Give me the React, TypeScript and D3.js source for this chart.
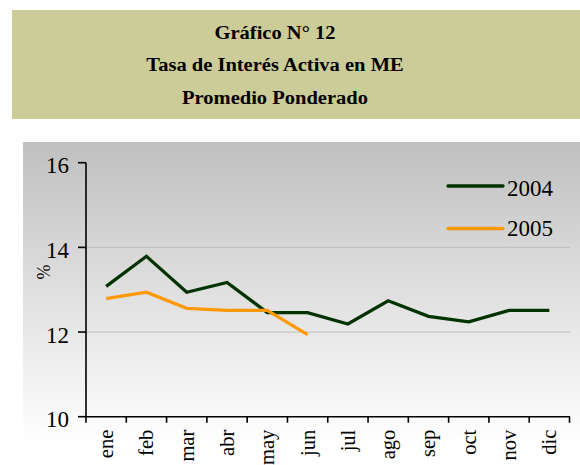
import React from "react";
import * as d3 from "d3";

const months = ["ene", "feb", "mar", "abr", "may", "jun", "jul", "ago", "sep", "oct", "nov", "dic"];
const serie2004 = [13.08, 13.79, 12.94, 13.17, 12.46, 12.46, 12.19, 12.74, 12.37, 12.24, 12.51, 12.51];
const serie2005 = [12.79, 12.94, 12.56, 12.51, 12.51, 11.94];
const yTicks = [10, 12, 14, 16];
const gridTicks = [12, 14];
const titleLines = ["Gráfico N° 12", "Tasa de Interés Activa en ME", "Promedio Ponderado"];

const W = 580;
const H = 465;
const FONT = "Liberation Serif";

export default function App() {
  const x = d3.scaleBand<string>().domain(months).range([86, 569.5]);
  const y = d3.scaleLinear().domain([10, 16]).range([416.7, 162.7]);
  const cx = (i: number) => x(months[i])! + x.bandwidth() / 2;
  const line = d3.line<number>().x((d, i) => cx(i)).y((d) => y(d));
  const legend = [
    { name: "2004", color: "#003300", yy: 186, ty: 196 },
    { name: "2005", color: "#FF9900", yy: 228.5, ty: 236 },
  ];

  return (
    <svg width={W} height={H} style={{ position: "absolute", left: 0, top: 0, fontFamily: FONT }}>
      <defs>
        <linearGradient id="bg" x1="0" y1="0" x2="0" y2="1">
          <stop offset="0%" stopColor="#C0C0C0" />
          <stop offset="100%" stopColor="#FFFFFF" />
        </linearGradient>
      </defs>

      {/* titulo */}
      <rect x={12} y={10} width={W - 12} height={109} fill="#CCCC99" />
      {titleLines.map((t, i) => (
        <text
          key={t}
          transform={`translate(275,${38.5 + i * 32.5}) scale(1.08,1)`}
          textAnchor="middle"
          fontSize={19}
          fontWeight="bold"
        >
          {t}
        </text>
      ))}

      <rect x={23} y={142} width={W - 23} height={301} fill="url(#bg)" />

      {/* grilla */}
      {gridTicks.map((t) => (
        <line key={t} x1={86} x2={570} y1={y(t)} y2={y(t)} stroke="#BDBDBD" strokeWidth={1} />
      ))}

      {/* eje y */}
      <line x1={86} x2={86} y1={y(16)} y2={y(10)} stroke="#000" strokeWidth={1.6} />
      {yTicks.map((t) => (
        <g key={t}>
          <line x1={78} x2={86} y1={y(t)} y2={y(t)} stroke="#000" strokeWidth={1.6} />
          <text x={69} y={y(t) + 10.5} textAnchor="end" fontSize={23}>
            {t}
          </text>
        </g>
      ))}
      <text transform="translate(50,272) rotate(-90)" textAnchor="middle" fontSize={18}>
        %
      </text>

      {/* eje x */}
      <line x1={86} x2={570} y1={y(10)} y2={y(10)} stroke="#000" strokeWidth={1.6} />
      {d3.range(months.length + 1).map((i) => (
        <line key={i} x1={86 + i * x.step()} x2={86 + i * x.step()} y1={y(10)} y2={y(10) + 6} stroke="#000" strokeWidth={1.6} />
      ))}
      {months.map((m, i) => (
        <text key={m} transform={`translate(${cx(i) + 7},${y(10) + 13}) rotate(-90)`} textAnchor="end" fontSize={20.5}>
          {m}
        </text>
      ))}

      {/* series */}
      <path d={line(serie2004) ?? ""} fill="none" stroke="#003300" strokeWidth={3.3} />
      <path d={line(serie2005) ?? ""} fill="none" stroke="#FF9900" strokeWidth={3.3} />

      {/* leyenda */}
      {legend.map((l) => (
        <g key={l.name}>
          <line x1={448} x2={503} y1={l.yy} y2={l.yy} stroke={l.color} strokeWidth={3.3} strokeLinecap="round" />
          <text x={507} y={l.ty} fontSize={23}>
            {l.name}
          </text>
        </g>
      ))}
    </svg>
  );
}
